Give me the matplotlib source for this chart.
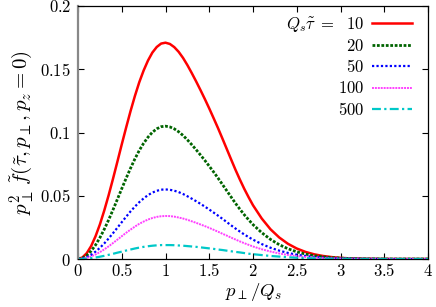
import matplotlib
matplotlib.use("Agg")
import matplotlib.pyplot as plt
import numpy as np

plt.rcParams['mathtext.fontset'] = 'cm'
plt.rcParams['font.family'] = 'serif'
plt.rcParams['font.serif'] = ['DejaVu Serif']

# p_perp / Q_s sample points: every 0.05 up to 2, then every 0.1
p = np.round(np.concatenate([np.arange(0, 2.001, 0.05), np.arange(2.1, 4.001, 0.1)]), 2)

tau10 = [0, 0.0012, 0.0046, 0.0102, 0.0179, 0.0273, 0.0383, 0.0504, 0.0634, 0.0769,
         0.0906, 0.1039, 0.1168, 0.1288, 0.1397, 0.1490, 0.1569, 0.1632, 0.1676, 0.1703,
         0.1710, 0.1700, 0.1675, 0.1638, 0.1590, 0.1533, 0.1470, 0.1404, 0.1335, 0.1264,
         0.1190, 0.1113, 0.1035, 0.0953, 0.0870, 0.0787, 0.0705, 0.0628, 0.0555, 0.0488,
         0.0425,
         0.0320, 0.0235, 0.0170, 0.0120, 0.0083, 0.0056, 0.0037, 0.0024, 0.0015, 0.0009,
         0.0005, 0.0003, 0.0002, 0.0001, 0.0001, 0, 0, 0, 0, 0]
tau20 = [0, 0.0007, 0.0028, 0.0063, 0.0110, 0.0168, 0.0235, 0.0309, 0.0389, 0.0472,
         0.0556, 0.0638, 0.0717, 0.0791, 0.0858, 0.0915, 0.0963, 0.1002, 0.1029, 0.1046,
         0.1050, 0.1044, 0.1029, 0.1006, 0.0977, 0.0942, 0.0904, 0.0864, 0.0822, 0.0779,
         0.0734, 0.0688, 0.0640, 0.0590, 0.0540, 0.0490, 0.0440, 0.0394, 0.0350, 0.0310,
         0.0272,
         0.0208, 0.0155, 0.0113, 0.0081, 0.0057, 0.0039, 0.0026, 0.0017, 0.0011, 0.0007,
         0.0004, 0.0002, 0.0001, 0.0001, 0, 0, 0, 0, 0, 0]
tau50 = [0, 0.0004, 0.0015, 0.0033, 0.0058, 0.0088, 0.0123, 0.0162, 0.0204, 0.0247,
         0.0291, 0.0334, 0.0376, 0.0414, 0.0449, 0.0479, 0.0505, 0.0525, 0.0539, 0.0548,
         0.0550, 0.0547, 0.0540, 0.0529, 0.0514, 0.0496, 0.0477, 0.0457, 0.0436, 0.0414,
         0.0391, 0.0367, 0.0343, 0.0318, 0.0292, 0.0266, 0.0241, 0.0217, 0.0194, 0.0173,
         0.0153,
         0.0118, 0.0089, 0.0066, 0.0048, 0.0034, 0.0024, 0.0016, 0.0011, 0.0007, 0.0004,
         0.0003, 0.0002, 0.0001, 0.0001, 0, 0, 0, 0, 0, 0]
tau100 = [0, 0.0002, 0.0009, 0.0020, 0.0036, 0.0054, 0.0076, 0.0100, 0.0126, 0.0153,
          0.0180, 0.0207, 0.0232, 0.0256, 0.0278, 0.0296, 0.0312, 0.0324, 0.0333, 0.0338,
          0.0340, 0.0339, 0.0335, 0.0328, 0.0320, 0.0310, 0.0298, 0.0286, 0.0273, 0.0260,
          0.0246, 0.0231, 0.0216, 0.0200, 0.0185, 0.0169, 0.0154, 0.0139, 0.0125, 0.0112,
          0.0099,
          0.0077, 0.0059, 0.0044, 0.0032, 0.0023, 0.0016, 0.0011, 0.0007, 0.0005, 0.0003,
          0.0002, 0.0001, 0.0001, 0, 0, 0, 0, 0, 0, 0]
tau500 = [0, 0.0001, 0.0003, 0.0007, 0.0012, 0.0018, 0.0025, 0.0033, 0.0041, 0.0050,
          0.0058, 0.0067, 0.0075, 0.0083, 0.0090, 0.0096, 0.0101, 0.0105, 0.0108, 0.0110,
          0.0110, 0.0110, 0.0109, 0.0107, 0.0105, 0.0102, 0.0099, 0.0096, 0.0092, 0.0088,
          0.0084, 0.0080, 0.0075, 0.0071, 0.0066, 0.0061, 0.0056, 0.0052, 0.0047, 0.0042,
          0.0038,
          0.0031, 0.0024, 0.0019, 0.0014, 0.0010, 0.0007, 0.0005, 0.0003, 0.0002, 0.0001,
          0.0001, 0, 0, 0, 0, 0, 0, 0, 0, 0]

labels = [r'$Q_s\tilde{\tau}\ =\ \ 10$', r'$20$', r'$50$', r'$100$', r'$500$']
xticks = [0, 0.5, 1, 1.5, 2, 2.5, 3, 3.5, 4]
yticks = [0, 0.05, 0.1, 0.15, 0.2]

fig = plt.figure(figsize=(4.36, 3.07), dpi=100)
ax = fig.add_axes([78/436, 48/307, 350/436, 253/307])

ax.plot(p, tau10, color='#ff0000', lw=1.8, label=labels[0])
ax.plot(p, tau20, color='#006400', lw=2.0, ls=(0, (1, 0.6)), label=labels[1])
ax.plot(p, tau50, color='#0000ff', lw=1.6, ls=(0, (1, 1)), label=labels[2])
ax.plot(p, tau100, color='#ff40ff', lw=1.4, ls=(0, (1, 0.5)), label=labels[3])
ax.plot(p, tau500, color='#00c8c8', lw=1.6, ls=(0, (4, 1.5, 1, 1.5)), label=labels[4])

ax.set_xlim(0, 4)
ax.set_ylim(0, 0.2)
ax.set_xticks(xticks)
ax.set_yticks(yticks)
ax.set_xticklabels(['$%g$' % t for t in xticks], fontsize=12)
ax.set_yticklabels(['$%g$' % t for t in yticks], fontsize=12)
ax.tick_params(direction='in', top=True, right=True, length=4, width=0.8, pad=5)
ax.tick_params(axis='x', pad=3)

for s in ['top', 'right', 'bottom']:
    ax.spines[s].set_color('black')
    ax.spines[s].set_linewidth(0.9)
ax.spines['left'].set_color('#888888')
ax.spines['left'].set_linewidth(1.6)

ax.set_xlabel(r'$p_\perp/Q_s$', fontsize=13.5, labelpad=0.5)
ax.set_ylabel(r'$p_\perp^2\,\tilde{f}(\tilde{\tau},p_\perp,p_z=0)$', fontsize=15, labelpad=4)

ax.legend(loc='upper right', bbox_to_anchor=(0.955, 0.965), frameon=False,
          markerfirst=False, fontsize=12, handlelength=2.4, handletextpad=0.5,
          labelspacing=0.25, borderpad=0, borderaxespad=0)

fig.savefig('out.png', dpi=100)
